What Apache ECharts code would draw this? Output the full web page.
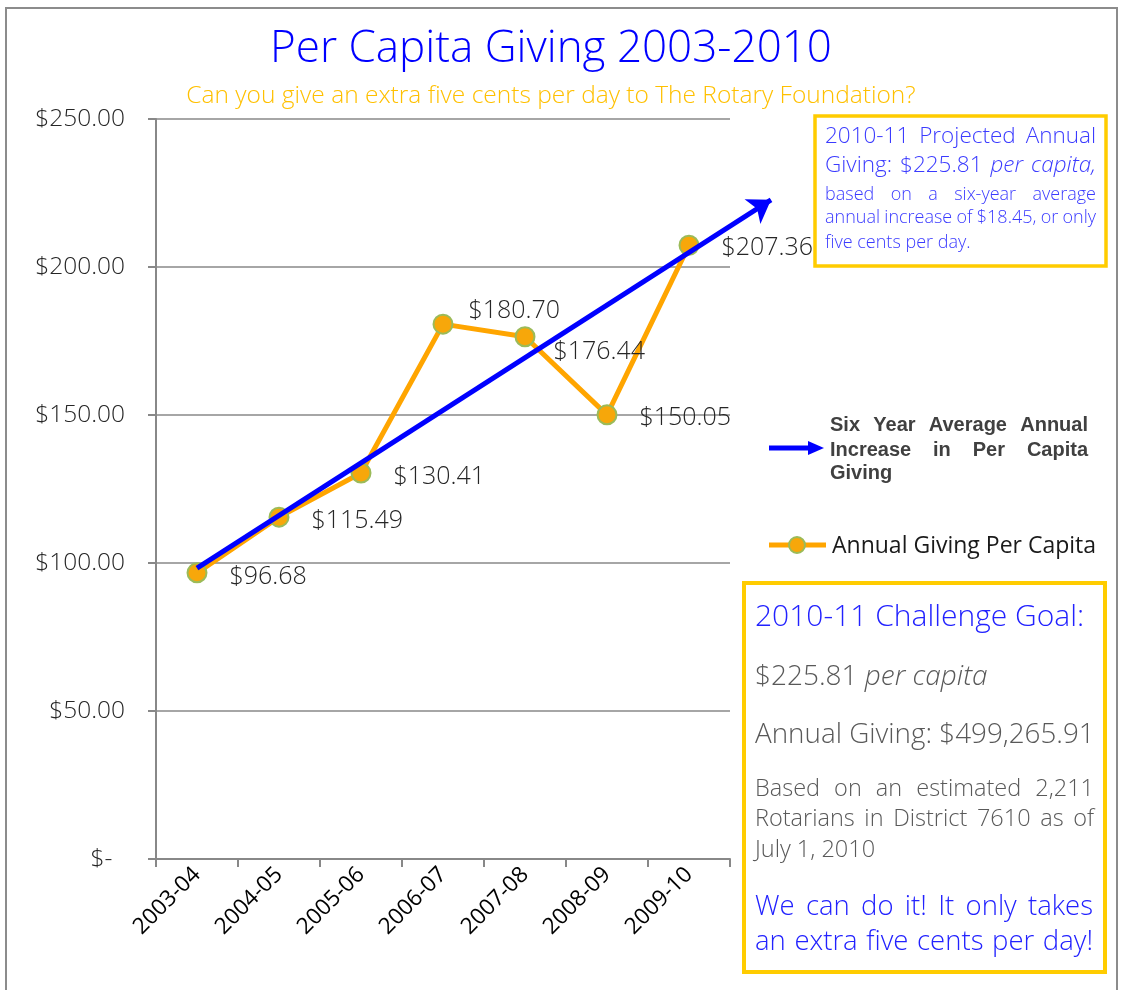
<!DOCTYPE html>
<html>
<head>
<meta charset="utf-8">
<script src="https://cdn.jsdelivr.net/npm/echarts@6/dist/echarts.min.js"></script>
<style>
  html, body { margin: 0; padding: 0; background: #fff; }
  #chart { width: 1123px; height: 990px; }
</style>
</head>
<body>
<div id="chart"></div>
<script>
// data
const years = ['2003-04', '2004-05', '2005-06', '2006-07', '2007-08', '2008-09', '2009-10']
const giving = [96.68, 115.49, 130.41, 180.70, 176.44, 150.05, 207.36]
// trend arrow: start / end (x as category index, y in dollars)
const trendX = [0, 7]
const trendY = [98.3, 222.7]

// label nudges so the value tags sit where the original puts them
const labelShift = [[0, 4], [0, 4], [0, 4], [-7, -13], [-4, 15], [0, 3], [0, 3]]

const LIGHT = '"Open Sans", sans-serif'
const BLUE = '#0000FF'
const GOLD = '#FFCC00'

const ctx = document.createElement('canvas').getContext('2d')
const fontOf = (size, it, weight, fam) => `${it ? 'italic ' : ''}${weight || 300} ${size}px ${fam || LIGHT}`
const textW = (s, font) => { ctx.font = font; return ctx.measureText(s).width }

// one line of text, words spread to fill the width when justify is on
// words wrapped in _..._ are set in italic
function line(els, o) {
  let ital = false
  const toks = o.text.split(' ').filter(w => w).map(w => {
    let s = w
    if (s.startsWith('_')) { ital = true; s = s.slice(1) }
    const it = ital
    if (s.endsWith('_')) { ital = false; s = s.slice(0, -1) }
    return { s, font: fontOf(o.size, it, o.weight, o.family) }
  })
  const total = toks.reduce((a, t) => a + textW(t.s, t.font), 0)
  const space = textW(' ', fontOf(o.size, false, o.weight, o.family))
  const gap = o.justify && toks.length > 1 ? (o.width - total) / (toks.length - 1) : space
  let x = o.x
  toks.forEach(t => {
    els.push({
      type: 'text', x, y: o.y, z: 20,
      style: { text: t.s, font: t.font, fill: o.color, textAlign: 'left', textVerticalAlign: 'middle' }
    })
    x += textW(t.s, t.font) + gap
  })
}

const els = [
  // outer frame
  { type: 'rect', z: 0, shape: { x: 6, y: 8, width: 1111, height: 1000 }, style: { fill: 'none', stroke: '#8c8c8c', lineWidth: 2 } },
  // projected box
  { type: 'rect', z: 10, shape: { x: 815, y: 116, width: 291, height: 150 }, style: { fill: '#fff', stroke: GOLD, lineWidth: 3.5 } },
  // challenge box
  { type: 'rect', z: 10, shape: { x: 744, y: 583, width: 361, height: 389 }, style: { fill: '#fff', stroke: GOLD, lineWidth: 4 } },
  // legend arrow for the trend
  { type: 'line', z: 20, shape: { x1: 769, y1: 448, x2: 810, y2: 448 }, style: { stroke: BLUE, lineWidth: 5 } },
  { type: 'polygon', z: 20, shape: { points: [[808, 441], [824, 448], [808, 455]] }, style: { fill: BLUE } },
  // legend mark for the giving line
  { type: 'line', z: 20, shape: { x1: 769, y1: 545, x2: 826, y2: 545 }, style: { stroke: '#FFA500', lineWidth: 5 } },
  { type: 'circle', z: 21, shape: { cx: 797, cy: 545, r: 8 }, style: { fill: '#F7A70A', stroke: '#9BBB59', lineWidth: 2 } }
]

const b1 = '#3B3BFF'
line(els, { text: '2010-11 Projected Annual', x: 825, y: 137, width: 271, size: 22.5, color: b1, justify: true })
line(els, { text: 'Giving: $225.81 _per capita,_', x: 825, y: 166, width: 271, size: 22.5, color: b1, justify: true })
line(els, { text: 'based on a six-year average', x: 825, y: 195, width: 271, size: 18, color: b1, justify: true })
line(els, { text: 'annual increase of $18.45, or only', x: 825, y: 218, width: 271, size: 18, color: b1, justify: true })
line(els, { text: 'five cents per day.', x: 825, y: 243, width: 271, size: 18, color: b1 })

const g2 = '#595959'
line(els, { text: '2010-11 Challenge Goal:', x: 755, y: 617, width: 338, size: 30, color: '#2222FF' })
line(els, { text: '$225.81 _per capita_', x: 755, y: 677, width: 338, size: 28, color: g2 })
line(els, { text: 'Annual Giving: $499,265.91', x: 755, y: 735, width: 338, size: 27.8, color: g2 })
line(els, { text: 'Based on an estimated 2,211', x: 755, y: 789, width: 339, size: 23.5, color: g2, justify: true })
line(els, { text: 'Rotarians in District 7610 as of', x: 755, y: 819, width: 339, size: 23.5, color: g2, justify: true })
line(els, { text: 'July 1, 2010', x: 755, y: 850, width: 339, size: 23.5, color: g2 })
line(els, { text: 'We can do it! It only takes', x: 755, y: 907, width: 338, size: 27.5, color: '#2222FF', justify: true })
line(els, { text: 'an extra five cents per day!', x: 755, y: 942, width: 338, size: 27.5, color: '#2222FF', justify: true })

const lg = { x: 830, width: 258, size: 20, weight: 'bold', family: '"Liberation Sans", Arial, sans-serif', color: '#404040' }
line(els, { ...lg, text: 'Six Year Average Annual', y: 425, justify: true })
line(els, { ...lg, text: 'Increase in Per Capita', y: 450, justify: true })
line(els, { ...lg, text: 'Giving', y: 473 })
line(els, { text: 'Annual Giving Per Capita', x: 832, y: 546, width: 261, size: 23, weight: 400, color: '#1a1a1a' })

const chart = echarts.init(document.getElementById('chart'))
chart.setOption({
  animation: false,
  backgroundColor: '#fff',
  title: {
    text: 'Per Capita Giving 2003-2010',
    subtext: 'Can you give an extra five cents per day to The Rotary Foundation?',
    left: 546, top: 22, textAlign: 'center', itemGap: 13,
    textStyle: { color: BLUE, fontSize: 44, fontWeight: 300, fontFamily: LIGHT },
    subtextStyle: { color: '#FFC000', fontSize: 24.5, fontWeight: 300, fontFamily: LIGHT }
  },
  grid: { left: 156, top: 119, width: 574, height: 740 },
  xAxis: [{
    type: 'category',
    data: years,
    boundaryGap: true,
    axisLine: { lineStyle: { color: '#888', width: 2 } },
    axisTick: { show: true, length: 8, lineStyle: { color: '#888', width: 2 } },
    axisLabel: { rotate: 45, margin: 12, color: '#000', fontSize: 22.5, fontFamily: LIGHT }
  }, {
    type: 'value', min: -0.5, max: 6.5, show: false
  }],
  yAxis: {
    type: 'value', min: 0, max: 250, interval: 50,
    axisLine: { show: true, onZero: false, lineStyle: { color: '#888', width: 2 } },
    axisTick: { show: true, length: 8, lineStyle: { color: '#888', width: 2 } },
    splitLine: { lineStyle: { color: '#888', width: 1.6 } },
    axisLabel: {
      margin: 31, color: '#262626', fontSize: 24.5, fontWeight: 300, fontFamily: LIGHT,
      formatter: v => v === 0 ? '$-  ' : '$' + v.toFixed(2)
    }
  },
  graphic: els,
  series: [{
    name: 'Annual Giving Per Capita',
    type: 'line',
    data: giving.map((v, i) => ({ value: v, label: { offset: labelShift[i] } })),
    symbol: 'circle', symbolSize: 19,
    lineStyle: { color: '#FFA500', width: 5 },
    itemStyle: { color: '#F7A70A', borderColor: '#9BBB59', borderWidth: 2 },
    label: {
      show: true, position: 'right', distance: 22,
      color: '#262626', fontSize: 25, fontWeight: 300, fontFamily: LIGHT,
      formatter: p => '$' + p.value.toFixed(2)
    },
    z: 3
  }, {
    name: 'Six Year Average Annual Increase in Per Capita Giving',
    type: 'lines',
    coordinateSystem: 'cartesian2d',
    xAxisIndex: 1, yAxisIndex: 0,
    clip: false,
    symbol: ['none', 'arrow'], symbolSize: [0, 22],
    lineStyle: { color: BLUE, width: 5, opacity: 1 },
    data: [{ coords: [[trendX[0], trendY[0]], [trendX[1], trendY[1]]] }],
    z: 5
  }]
})
</script>
</body>
</html>
